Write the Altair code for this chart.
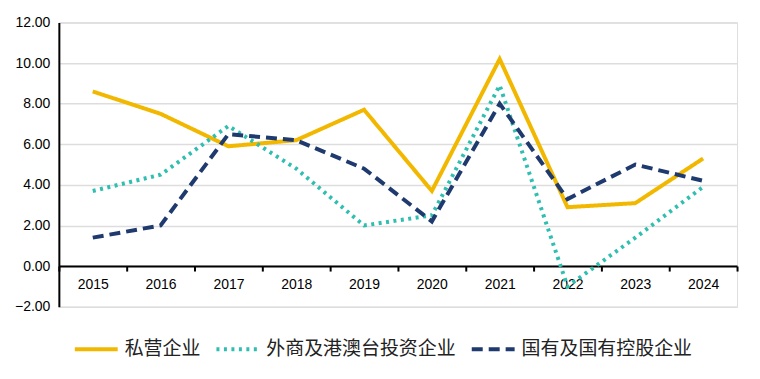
import altair as alt
import pandas as pd

years = ["2015", "2016", "2017", "2018", "2019", "2020", "2021", "2022", "2023", "2024"]
private = [8.6, 7.5, 5.9, 6.2, 7.7, 3.7, 10.2, 2.9, 3.1, 5.3]
foreign = [3.7, 4.5, 6.9, 4.8, 2.0, 2.5, 8.9, -1.0, 1.4, 3.9]
state = [1.4, 2.0, 6.5, 6.2, 4.8, 2.2, 8.0, 3.3, 5.0, 4.2]
series = ["私营企业", "外商及港澳台投资企业", "国有及国有控股企业"]
colors = ["#F2B800", "#2EBFB0", "#1F3A6E"]
dashes = [[1, 0], [3, 4.5], [11, 6]]

rows = []
for name, vals in zip(series, [private, foreign, state]):
    for y, v in zip(years, vals):
        rows.append({"year": y, "value": v, "series": name})
df = pd.DataFrame(rows)

H = 285
offset_x = -(H / 14.0) * 2

legend = alt.Legend(
    title=None, orient="none", legendX=14, legendY=304, direction="horizontal",
    symbolType="stroke", symbolSize=1849, symbolStrokeWidth=4,
    labelFont="Noto Sans CJK SC", labelFontSize=19, labelColor="#222222",
    labelOffset=5, columnPadding=7, labelLimit=400,
)

chart = alt.Chart(df).mark_line(strokeWidth=4, strokeCap="butt").encode(
    x=alt.X("year:N", bandPosition=0.5,
            scale=alt.Scale(type="band", paddingInner=0, paddingOuter=0),
            axis=alt.Axis(title=None, labelAngle=0, tickBand="extent", offset=offset_x,
                          domainColor="black", domainWidth=2, tickColor="black",
                          tickWidth=2, tickSize=5, labelPadding=6, grid=False,
                          labelFont="Liberation Sans", labelFontSize=14, labelColor="black")),
    y=alt.Y("value:Q", scale=alt.Scale(domain=[-2, 12], nice=False, zero=False),
            axis=alt.Axis(values=list(range(-2, 13, 2)), format=".2f", title=None,
                          domainColor="black", domainWidth=2, ticks=False, labelPadding=9,
                          gridColor="#DDDDDD", gridWidth=1.5,
                          labelFont="Liberation Sans", labelFontSize=14, labelColor="black")),
    color=alt.Color("series:N", scale=alt.Scale(domain=series, range=colors), legend=legend),
    strokeDash=alt.StrokeDash("series:N", scale=alt.Scale(domain=series, range=dashes), legend=legend),
    order=alt.Order("year:N"),
).properties(
    width=680, height=H,
    padding={"left": 6, "top": 7, "right": 14, "bottom": 5},
).configure_view(stroke=None).configure(background="white")

chart.save("out.html", embed_options={"renderer": "svg", "actions": False})
